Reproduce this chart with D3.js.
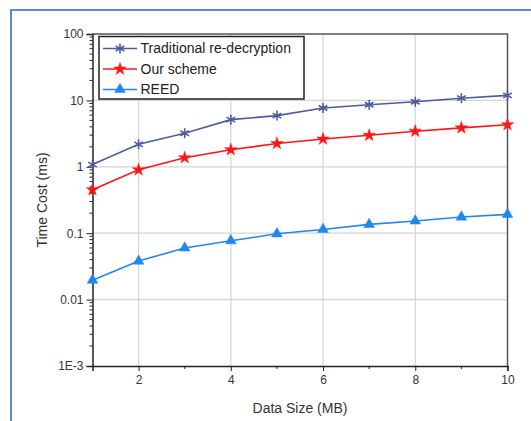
<!DOCTYPE html>
<head>
<meta charset="utf-8">
<script src="https://d3js.org/d3.v7.min.js"></script>
<style>
body { margin: 0; background: #fff; }
text { font-family: "Liberation Sans", Arial, sans-serif; fill: #333; }
.tick text { font-size: 12px; }
.axisTitle { font-size: 14px; }
.legend text { font-size: 14px; fill: #222; }
</style>
</head>
<body>
<script>
const sizes = [1, 2, 3, 4, 5, 6, 7, 8, 9, 10];
const traditional = [1.08, 2.18, 3.2, 5.13, 5.9, 7.7, 8.6, 9.55, 10.8, 11.9];
const ourScheme = [0.45, 0.9, 1.37, 1.81, 2.24, 2.62, 2.98, 3.43, 3.86, 4.3];
const reed = [0.0196, 0.038, 0.06, 0.077, 0.098, 0.114, 0.136, 0.153, 0.175, 0.192];
const yTickLabels = ['1E-3', '0.01', '0.1', '1', '10', '100'];

const series = [
  {name: 'Traditional re-decryption', values: traditional, color: '#4d5c9f', symbol: d3.symbolAsterisk, size: 70, stroke: true},
  {name: 'Our scheme', values: ourScheme, color: '#ff1414', symbol: d3.symbolStar, size: 48},
  {name: 'REED', values: reed, color: '#1f88f0', symbol: d3.symbolTriangle, size: 50}
];

const W = 531, H = 421;
const margin = {top: 34, right: 23.5, bottom: 55, left: 92.5};

const svg = d3.select('body').append('svg')
  .attr('width', W)
  .attr('height', H);

// blue frame (top and left edges only visible)
svg.append('path')
  .attr('d', `M11,${H} L11,10 L${W},10`)
  .attr('fill', 'none')
  .attr('stroke', '#5b8bd0')
  .attr('stroke-width', 2);

const x = d3.scaleLinear()
  .domain([1, 10])
  .range([margin.left, W - margin.right]);

const y = d3.scaleLog()
  .domain([0.001, 100])
  .range([H - margin.bottom, margin.top]);

// grid
svg.append('g')
  .selectAll('line')
  .data([2, 4, 6, 8])
  .join('line')
  .attr('x1', d => x(d)).attr('x2', d => x(d))
  .attr('y1', y(100)).attr('y2', y(0.001))
  .attr('stroke', '#d4d4d4').attr('stroke-width', 1.2);

svg.append('g')
  .selectAll('line')
  .data([0.01, 0.1, 1, 10])
  .join('line')
  .attr('x1', x(1)).attr('x2', x(10))
  .attr('y1', d => y(d)).attr('y2', d => y(d))
  .attr('stroke', '#d4d4d4').attr('stroke-width', 1.2);

// frame top/right
svg.append('path')
  .attr('d', `M${x(1)},${y(100)} L${x(10)},${y(100)} L${x(10)},${y(0.001)}`)
  .attr('fill', 'none')
  .attr('stroke', '#555')
  .attr('stroke-width', 1.5);

// x axis
const xAxis = d3.axisBottom(x)
  .tickValues([2, 4, 6, 8, 10])
  .tickSize(5)
  .tickPadding(4)
  .tickFormat(d3.format('d'));

const gx = svg.append('g')
  .attr('transform', `translate(0,${y(0.001)})`)
  .call(xAxis);
gx.select('.domain').attr('stroke', '#222').attr('stroke-width', 1.5);
gx.selectAll('.tick line').attr('stroke', '#222');

svg.append('g')
  .selectAll('line')
  .data([3, 5, 7, 9])
  .join('line')
  .attr('x1', d => x(d)).attr('x2', d => x(d))
  .attr('y1', y(0.001)).attr('y2', y(0.001) + 3)
  .attr('stroke', '#222');

// y axis
const yAxis = d3.axisLeft(y)
  .tickValues([0.001, 0.01, 0.1, 1, 10, 100])
  .tickSize(6)
  .tickPadding(3)
  .tickFormat((d, i) => yTickLabels[i]);

const gy = svg.append('g')
  .attr('transform', `translate(${x(1)},0)`)
  .call(yAxis);
gy.select('.domain').attr('stroke', '#222').attr('stroke-width', 1.5);
gy.selectAll('.tick line').attr('stroke', '#222');

const minor = y.ticks().filter(d => {
  const m = d / Math.pow(10, Math.floor(Math.log10(d) + 1e-9));
  return Math.abs(m - 1) > 1e-6;
});
svg.append('g')
  .selectAll('line')
  .data(minor)
  .join('line')
  .attr('x1', x(1) - 3).attr('x2', x(1))
  .attr('y1', d => y(d)).attr('y2', d => y(d))
  .attr('stroke', '#222');

// axis titles
svg.append('text')
  .attr('class', 'axisTitle')
  .attr('x', (x(1) + x(10)) / 2)
  .attr('y', 413)
  .attr('text-anchor', 'middle')
  .text('Data Size (MB)');

svg.append('text')
  .attr('class', 'axisTitle')
  .attr('transform', `translate(47,${(y(100) + y(0.001)) / 2}) rotate(-90)`)
  .attr('text-anchor', 'middle')
  .text('Time Cost (ms)');

// series
const line = d3.line()
  .x((d, i) => x(sizes[i]))
  .y(d => y(d));

series.forEach(s => {
  svg.append('path')
    .datum(s.values)
    .attr('d', line)
    .attr('fill', 'none')
    .attr('stroke', s.color)
    .attr('stroke-width', 1.6);

  svg.append('g')
    .selectAll('path')
    .data(s.values)
    .join('path')
    .attr('transform', (d, i) => `translate(${x(sizes[i])},${y(d)})`)
    .attr('d', d3.symbol(s.symbol, s.size))
    .attr('fill', s.stroke ? 'none' : s.color)
    .attr('stroke', s.color)
    .attr('stroke-width', s.stroke ? 1.6 : 0.5);
});

// legend
const legend = svg.append('g').attr('class', 'legend');
legend.append('rect')
  .attr('x', 99).attr('y', 36.5)
  .attr('width', 205).attr('height', 62.5)
  .attr('fill', '#fff')
  .attr('stroke', '#222')
  .attr('stroke-width', 1.5);

series.forEach((s, i) => {
  const ly = 48.5 + i * 20.5;
  legend.append('line')
    .attr('x1', 103).attr('x2', 137)
    .attr('y1', ly).attr('y2', ly)
    .attr('stroke', s.color).attr('stroke-width', 1.6);
  legend.append('path')
    .attr('transform', `translate(120,${ly})`)
    .attr('d', d3.symbol(s.symbol, s.size))
    .attr('fill', s.stroke ? 'none' : s.color)
    .attr('stroke', s.color)
    .attr('stroke-width', s.stroke ? 1.6 : 0.5);
  legend.append('text')
    .attr('x', 140.5).attr('y', ly)
    .attr('dy', '0.35em')
    .text(s.name);
});
</script>
</body>
